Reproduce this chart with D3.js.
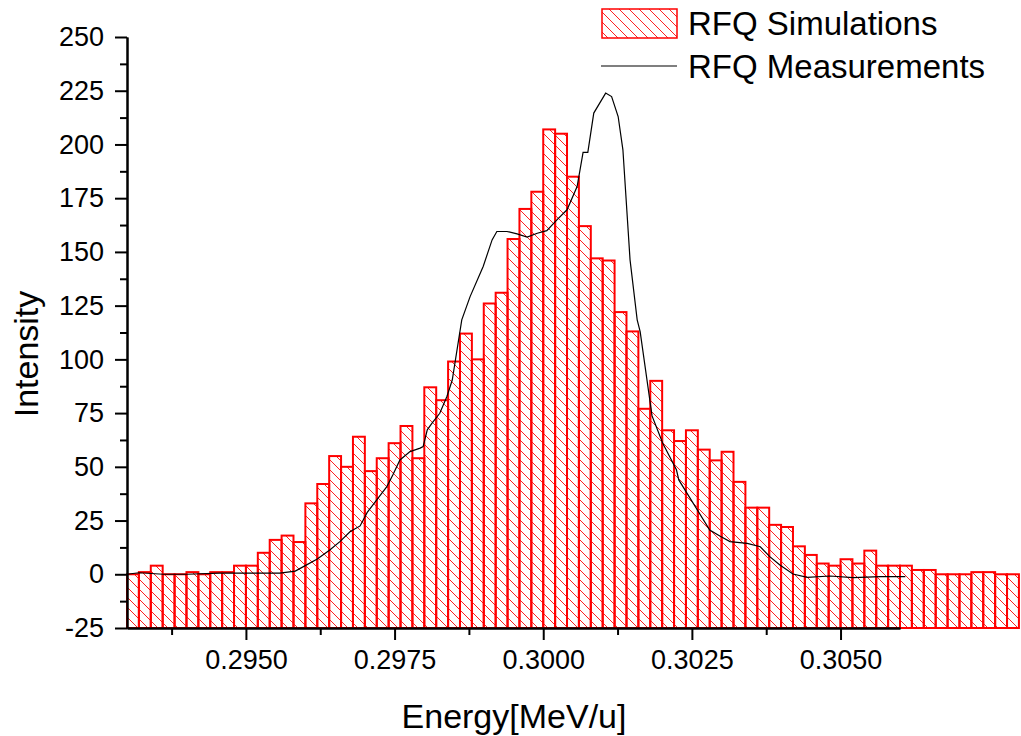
<!DOCTYPE html>
<html lang="en">
<head>
<meta charset="utf-8">
<title>RFQ energy spectrum</title>
<script src="https://d3js.org/d3.v7.min.js"></script>
<style>
  body { margin: 0; background: #fff; }
  text { font-family: "Liberation Sans", Arial, sans-serif; }
</style>
</head>
<body>
<script>
// histogram of simulations: left edge of each bin and its count
var binWidth = 0.0002;
var simEnergy = [
  0.2930, 0.2932, 0.2934, 0.2936, 0.2938, 0.2940, 0.2942, 0.2944, 0.2946, 0.2948,
  0.2950, 0.2952, 0.2954, 0.2956, 0.2958, 0.2960, 0.2962, 0.2964, 0.2966, 0.2968,
  0.2970, 0.2972, 0.2974, 0.2976, 0.2978, 0.2980, 0.2982, 0.2984, 0.2986, 0.2988,
  0.2990, 0.2992, 0.2994, 0.2996, 0.2998, 0.3000, 0.3002, 0.3004, 0.3006, 0.3008,
  0.3010, 0.3012, 0.3014, 0.3016, 0.3018, 0.3020, 0.3022, 0.3024, 0.3026, 0.3028,
  0.3030, 0.3032, 0.3034, 0.3036, 0.3038, 0.3040, 0.3042, 0.3044, 0.3046, 0.3048,
  0.3050, 0.3052, 0.3054, 0.3056, 0.3058, 0.3060, 0.3062, 0.3064, 0.3066, 0.3068,
  0.3070, 0.3072, 0.3074, 0.3076, 0.3078
];
var simCounts = [
  0, 1, 4, 0, 0, 1, 0, 1, 1, 4,
  4, 10, 16, 18, 15, 33, 42, 55, 50, 64,
  48, 54, 61, 69, 54, 87, 81, 99, 112, 100,
  126, 131, 156, 170, 178, 207, 205, 185, 162, 147,
  146, 122, 113, 77, 90, 67, 62, 67, 58, 53,
  57, 43, 31, 31, 23, 22, 13, 9, 5, 4,
  7, 5, 11, 4, 4, 4, 2, 2, 0, 0,
  0, 1, 1, 0, 0
];

// measured curve
var measEnergy = [
  0.29300, 0.29320, 0.29361, 0.29401, 0.29456, 0.29512, 0.29557, 0.29583, 0.29599, 0.29620,
  0.29641, 0.29658, 0.29675, 0.29692, 0.29704, 0.29720, 0.29737, 0.29747, 0.29759, 0.29776,
  0.29793, 0.29798, 0.29805, 0.29813, 0.29826, 0.29838, 0.29847, 0.29863, 0.29877, 0.29899,
  0.29914, 0.29922, 0.29939, 0.29956, 0.29973, 0.29990, 0.30006, 0.30023, 0.30040, 0.30057,
  0.30067, 0.30075, 0.30085, 0.30105, 0.30115, 0.30126, 0.30134, 0.30146, 0.30158, 0.30163,
  0.30183, 0.30201, 0.30224, 0.30228, 0.30280, 0.30297, 0.30314, 0.30343, 0.30365, 0.30381,
  0.30398, 0.30420, 0.30444, 0.30482, 0.30521, 0.30567, 0.30609
];
var measIntensity = [
  0, 0.7, 0, 0, 0.5, 0.5, 0.5, 1.5, 3.9, 7.1,
  11.3, 15.2, 19.8, 22.5, 28.8, 34.6, 40.8, 46.2, 53.2, 57.1,
  58.7, 59.4, 67.2, 70.3, 74.9, 82.7, 90.4, 118.4, 129.2, 143.2,
  155.6, 159.5, 159.5, 158.4, 156.9, 158.7, 159.9, 164.9, 169.6, 180.4,
  196.3, 196.3, 214.6, 223.9, 222.3, 213, 197.5, 146.3, 118.4, 112.9,
  73.7, 61, 48.6, 43.9, 20.6, 17.8, 15.2, 14.4, 12.8, 8.2,
  4.3, 0.1, -1.4, -0.8, -1.6, -1.1, -1.1
];

var yMajor = [-25, 0, 25, 50, 75, 100, 125, 150, 175, 200, 225, 250];
var yMinor = [-12.5, 12.5, 37.5, 62.5, 87.5, 112.5, 137.5, 162.5, 187.5, 212.5, 237.5];
var xMajor = [0.2950, 0.2975, 0.3000, 0.3025, 0.3050];
var xMinor = [0.29375, 0.29625, 0.29875, 0.30125, 0.30375];
var seriesNames = ["RFQ Simulations", "RFQ Measurements"];

var W = 1021, H = 736;
var plotL = 127, plotR = 900, plotT = 37, plotB = 628;

var svg = d3.select("body").append("svg")
  .attr("width", W).attr("height", H);

var x = d3.scaleLinear().domain([0.293, 0.306]).range([plotL, plotR]);
var y = d3.scaleLinear().domain([-25, 250]).range([plotB, plotT]);

// hatch, thin "\" lines
var pat = svg.append("defs").append("pattern")
  .attr("id", "hatch")
  .attr("patternUnits", "userSpaceOnUse")
  .attr("width", 10).attr("height", 10);
pat.append("path")
  .attr("d", "M-2,-2 L12,12 M-2,8 L2,12 M8,-2 L12,2")
  .attr("stroke", "#ff2020").attr("stroke-width", 1);

var bars = simEnergy.map(function(e, i) { return {e: e, v: simCounts[i]}; });
svg.append("g").selectAll("rect").data(bars).enter().append("rect")
  .attr("x", d => x(d.e))
  .attr("width", d => x(d.e + binWidth) - x(d.e))
  .attr("y", d => y(d.v))
  .attr("height", d => y(-25) - y(d.v))
  .attr("fill", "url(#hatch)")
  .attr("stroke", "#ff0000")
  .attr("stroke-width", 2);

var line = d3.line()
  .x((d, i) => x(measEnergy[i]))
  .y((d, i) => y(measIntensity[i]));
svg.append("path")
  .datum(measEnergy)
  .attr("d", line)
  .attr("fill", "none")
  .attr("stroke", "#000")
  .attr("stroke-width", 1.2);

// axes
function styleAxis(g) {
  g.select(".domain").attr("stroke-width", 2);
  g.selectAll(".tick line").attr("stroke-width", 2);
  g.selectAll("text").attr("font-size", 27).attr("font-family", "Liberation Sans, Arial, sans-serif").attr("fill", "#000");
}

svg.append("g")
  .attr("transform", "translate(" + plotL + ",0)")
  .call(d3.axisLeft(y).tickValues(yMinor).tickSize(7).tickSizeOuter(0).tickFormat(""))
  .call(styleAxis);
svg.append("g")
  .attr("transform", "translate(" + plotL + ",0)")
  .call(d3.axisLeft(y).tickValues(yMajor).tickSize(12).tickSizeOuter(0).tickPadding(11).tickFormat(d => String(d)))
  .call(styleAxis);

svg.append("g")
  .attr("transform", "translate(0," + plotB + ")")
  .call(d3.axisBottom(x).tickValues(xMinor).tickSize(7).tickSizeOuter(0).tickFormat(""))
  .call(styleAxis);
svg.append("g")
  .attr("transform", "translate(0," + plotB + ")")
  .call(d3.axisBottom(x).tickValues(xMajor).tickSize(12).tickSizeOuter(0).tickPadding(10).tickFormat(d3.format(".4f")))
  .call(styleAxis);

// axis titles
svg.append("text")
  .attr("transform", "translate(38,354) rotate(-90)")
  .attr("text-anchor", "middle")
  .attr("font-size", 34)
  .text("Intensity");
svg.append("text")
  .attr("x", 514).attr("y", 728)
  .attr("text-anchor", "middle")
  .attr("font-size", 34)
  .text("Energy[MeV/u]");

// legend
var lg = svg.append("g");
lg.append("rect")
  .attr("x", 602).attr("y", 9).attr("width", 75).attr("height", 29)
  .attr("fill", "url(#hatch)").attr("stroke", "#ff0000").attr("stroke-width", 1.5);
lg.append("line")
  .attr("x1", 601).attr("x2", 677).attr("y1", 66).attr("y2", 66)
  .attr("stroke", "#000").attr("stroke-width", 1.2);
lg.append("text").attr("x", 688).attr("y", 35).attr("font-size", 33).text(seriesNames[0]);
lg.append("text").attr("x", 688).attr("y", 78).attr("font-size", 33).text(seriesNames[1]);
</script>
</body>
</html>
